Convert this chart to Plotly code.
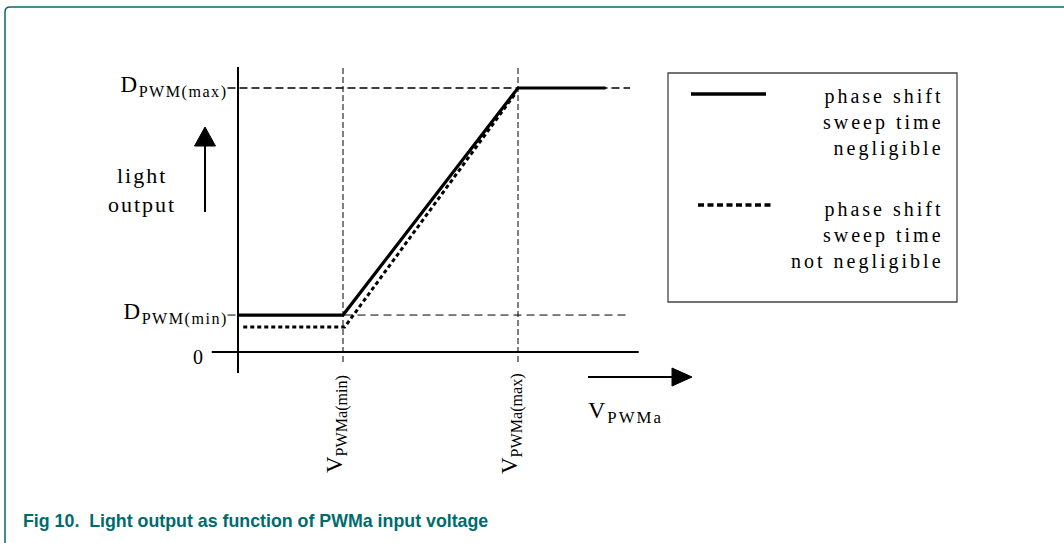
import plotly.graph_objects as go

# ---- conceptual data (normalised units) ----
v_min, v_max = 0.6, 1.6          # V_PWMa(min), V_PWMa(max)
d_min, d_max = 0.14, 1.0         # D_PWM(min), D_PWM(max)
d_min_slow = 0.095               # lower start level when sweep time not negligible
solid_x = [0.0, v_min, v_max, 2.1]
solid_y = [d_min, d_min, d_max, d_max]
dotted_x = [0.03, 0.61, 1.58]
dotted_y = [d_min_slow, d_min_slow, 0.975]
x_end = 2.24                     # end of guide lines
legend_names = ["phase shift<br>sweep time<br>negligible",
                "phase shift<br>sweep time<br>not negligible"]
v_tick_labels = ["V<sub>PWMa(min)</sub>", "V<sub>PWMa(max)</sub>"]
d_tick_labels = ["D<sub>PWM(max)</sub>", "D<sub>PWM(min)</sub>"]
caption = "Fig 10.  Light output as function of PWMa input voltage"

W, H = 1064, 543
X0PX, Y0PX, XS, YS = 238, 352, 175, 264   # pixel origin and scale

SERIF = "Liberation Serif, Times New Roman, serif"
TEAL = "#006b6d"

def P(px, py):
    return dict(x=px / W, y=1 - py / H, xref="paper", yref="paper")

fig = go.Figure()

# axes lines
fig.add_trace(go.Scatter(x=[0, 0], y=[-0.08, 1.08], mode="lines",
                         line=dict(color="black", width=2), showlegend=False))
fig.add_trace(go.Scatter(x=[-0.15, 2.29], y=[0, 0], mode="lines",
                         line=dict(color="black", width=2), showlegend=False))
# guide lines
fig.add_trace(go.Scatter(x=[-0.06, x_end], y=[d_max, d_max], mode="lines",
                         line=dict(color="black", width=1.6, dash="8px,4px"), showlegend=False))
fig.add_trace(go.Scatter(x=[-0.06, x_end], y=[d_min, d_min], mode="lines",
                         line=dict(color="black", width=1, dash="8px,5px"), showlegend=False))
for v in (v_min, v_max):
    fig.add_trace(go.Scatter(x=[v, v], y=[-0.038, 1.087], mode="lines",
                             line=dict(color="black", width=1, dash="6px,3px"), showlegend=False))
# curves
fig.add_trace(go.Scatter(x=solid_x, y=solid_y, mode="lines",
                         line=dict(color="black", width=3.2), showlegend=False))
fig.add_trace(go.Scatter(x=dotted_x, y=dotted_y, mode="lines",
                         line=dict(color="black", width=3, dash="4px,3px"), showlegend=False))

shapes = []
# border (teal) top and left
shapes.append(dict(type="path", xref="paper", yref="paper",
                   path=f"M {5/W},{0} L {5/W},{1-12/H} Q {5/W},{1-7/H} {10/W},{1-7/H} L 1,{1-7/H}",
                   line=dict(color=TEAL, width=1.5)))
# up arrow
ax = -0.1886
shapes.append(dict(type="line", x0=ax, x1=ax, y0=(Y0PX-212)/YS, y1=(Y0PX-146)/YS,
                   line=dict(color="black", width=2)))
shapes.append(dict(type="path",
                   path=f"M {ax-10.5/XS},{(Y0PX-146)/YS} L {ax+10.5/XS},{(Y0PX-146)/YS} L {ax},{(Y0PX-127)/YS} Z",
                   fillcolor="black", line=dict(color="black", width=1)))
# right arrow
ay = (Y0PX-377)/YS
shapes.append(dict(type="line", x0=(588-X0PX)/XS, x1=(673-X0PX)/XS, y0=ay, y1=ay,
                   line=dict(color="black", width=2)))
shapes.append(dict(type="path",
                   path=f"M {(672-X0PX)/XS},{ay+9/YS} L {(672-X0PX)/XS},{ay-9/YS} L {(692-X0PX)/XS},{ay} Z",
                   fillcolor="black", line=dict(color="black", width=1)))
# legend box
shapes.append(dict(type="rect", xref="paper", yref="paper",
                   x0=668/W, x1=957/W, y0=1-73/H, y1=1-302/H,
                   line=dict(color="#444444", width=1.3)))
shapes.append(dict(type="line", xref="paper", yref="paper",
                   x0=691/W, x1=766/W, y0=1-94/H, y1=1-94/H,
                   line=dict(color="black", width=3.5)))
shapes.append(dict(type="line", xref="paper", yref="paper",
                   x0=698/W, x1=774/W, y0=1-205/H, y1=1-205/H,
                   line=dict(color="black", width=3.5, dash="6px,3.5px")))

ann = []
def T(text, px, py, size=20, xanchor="center", yanchor="middle", align="center", angle=0, color="black", family=SERIF):
    d = P(px, py)
    d.update(text=text, showarrow=False, xanchor=xanchor, yanchor=yanchor, align=align,
             textangle=angle, font=dict(family=family, size=size, color=color))
    ann.append(d)

T("light<br>output", 142, 190, size=22)                                   # 0
T(d_tick_labels[0], 230, 86, size=23, xanchor="right", align="right")     # 1
T(d_tick_labels[1], 230, 313, size=23, xanchor="right", align="right")    # 2
T("0", 198, 357, size=20)                                                 # 3
T(v_tick_labels[0], 336, 424, size=23, angle=-90)                         # 4
T(v_tick_labels[1], 511, 424, size=23, angle=-90)                         # 5
T("V<sub>PWMa</sub>", 586, 412, size=24, xanchor="left", align="left")    # 6
T(legend_names[0], 946, 123, size=20, xanchor="right", align="right")     # 7
T(legend_names[1], 946, 235, size=20, xanchor="right", align="right")     # 8
T("<b>" + caption + "</b>", 21, 521, size=17.8, xanchor="left", color=TEAL,
  family="Liberation Sans, Arial, sans-serif")                            # 9

fig.update_layout(
    width=W, height=H, margin=dict(l=0, r=0, t=0, b=0),
    paper_bgcolor="white", plot_bgcolor="white",
    font=dict(family=SERIF, size=20, color="black"),
    xaxis=dict(range=[-X0PX/XS, (W-X0PX)/XS], visible=False, fixedrange=True),
    yaxis=dict(range=[(Y0PX-H)/YS, Y0PX/YS], visible=False, fixedrange=True),
    shapes=shapes, annotations=ann, showlegend=False, hovermode=False,
)

post = """
document.body.style.margin='0';
var sp = {0:'2px',1:'1.5px',2:'1.5px',6:'2px',7:'3px',8:'3px'};
document.querySelectorAll('g.annotation').forEach(function(g){
  var i = g.getAttribute('data-index');
  if (sp[i]) { var t = g.querySelector('text.annotation-text'); if (t) t.style.letterSpacing = sp[i]; }
});
"""
fig.write_html("out.html", post_script=post, config={"displayModeBar": False, "staticPlot": True})
